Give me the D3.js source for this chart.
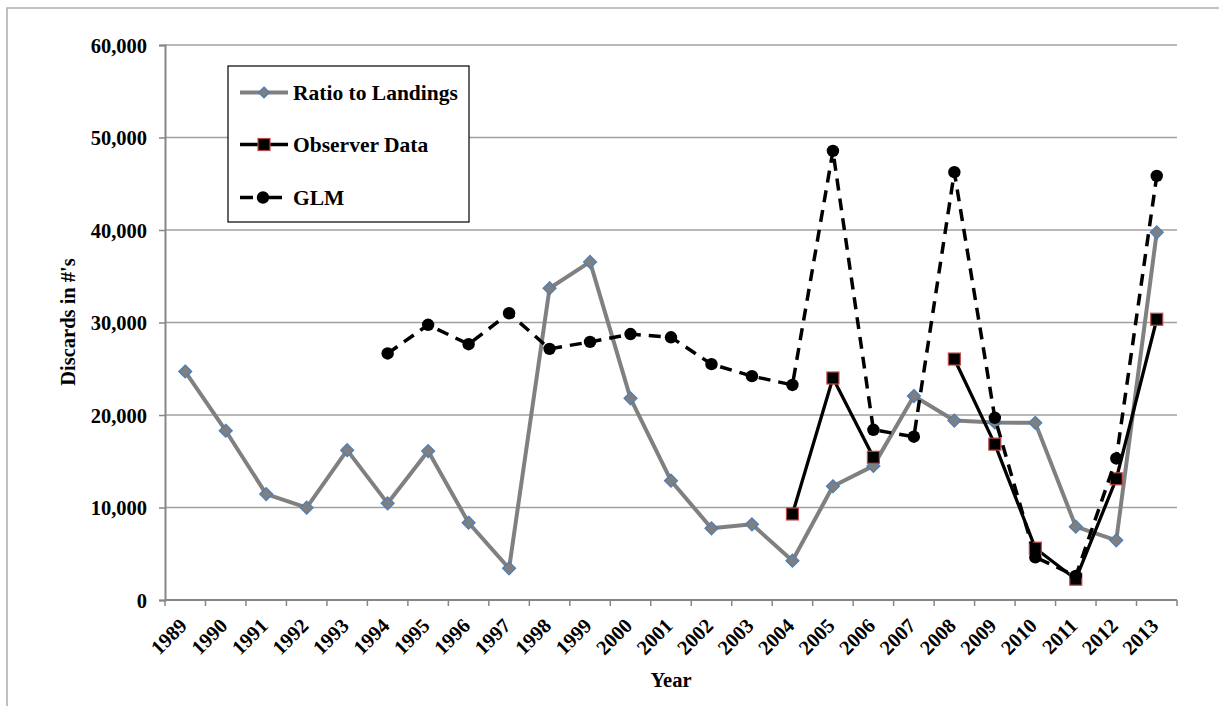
<!DOCTYPE html>
<html>
<head>
<meta charset="utf-8">
<script src="https://cdn.jsdelivr.net/npm/d3@7"></script>
<style>
  html, body { margin: 0; padding: 0; background: #fff; }
  svg { display: block; }
  text { font-family: "Liberation Serif", "Times New Roman", serif; font-weight: bold; fill: #000; }
</style>
</head>
<body>
<svg id="chart" width="1219" height="706"></svg>
<script>
const years = ["1989","1990","1991","1992","1993","1994","1995","1996","1997","1998","1999","2000","2001","2002","2003","2004","2005","2006","2007","2008","2009","2010","2011","2012","2013"];
const ratioToLandings = [24700,18300,11450,9980,16200,10450,16100,8350,3420,33700,36550,21800,12900,7750,8180,4250,12300,14500,22050,19400,19200,19150,7930,6450,39750];
const observerData = [null,null,null,null,null,null,null,null,null,null,null,null,null,null,null,9300,24000,15430,null,26050,16850,5600,2250,13100,30350];
const glm = [null,null,null,null,null,26650,29750,27650,31000,27150,27900,28750,28400,25500,24200,23250,48550,18400,17650,46250,19700,4620,2600,15300,45850];
const yTicks = [0,10000,20000,30000,40000,50000,60000];
const seriesNames = ["Ratio to Landings","Observer Data","GLM"];

const svg = d3.select("#chart");
const W = 1219, H = 706;
svg.append("rect").attr("width", W).attr("height", H).attr("fill", "#fff");
// outer chart border (left & top visible)
svg.append("path").attr("d", `M7,${H+5} L7,8 L${W+5},8`).attr("fill","none").attr("stroke","#acacac").attr("stroke-width",1.5);

const x0 = 165, x1 = 1177, yTop = 45, yBot = 600;
const x = d3.scaleBand().domain(years).range([x0, x1]).padding(0);
const y = d3.scaleLinear().domain([0, 60000]).range([yBot, yTop]);
const cx = d => x(d) + x.bandwidth() / 2;

// gridlines
svg.append("g").selectAll("line").data(yTicks.filter(t => t > 0)).join("line")
  .attr("x1", x0).attr("x2", x1).attr("y1", d => y(d)).attr("y2", d => y(d))
  .attr("stroke", "#a0a0a0").attr("stroke-width", 1.5);

// y axis
const yAxis = d3.axisLeft(y).tickValues(yTicks).tickSize(6).tickFormat(d3.format(","));
const gy = svg.append("g").attr("transform", `translate(${x0},0)`).call(yAxis);
gy.select(".domain").attr("stroke", "#868686").attr("stroke-width", 2);
gy.selectAll(".tick line").attr("stroke", "#868686").attr("stroke-width", 1.5);
gy.selectAll(".tick text").attr("x", -18).attr("dy", "0.35em")
  .style("font-family", '"Liberation Serif", serif').style("font-weight", "bold").style("font-size", "20.5px").attr("fill", "#000");

// x axis (ticks at category boundaries)
const boundaries = years.map(d => x(d)).concat([x1]);
const gx = svg.append("g");
gx.append("line").attr("x1", x0).attr("x2", x1).attr("y1", yBot).attr("y2", yBot)
  .attr("stroke", "#868686").attr("stroke-width", 2);
gx.selectAll("line.tk").data(boundaries).join("line").attr("class","tk")
  .attr("x1", d => d).attr("x2", d => d).attr("y1", yBot).attr("y2", yBot + 6)
  .attr("stroke", "#868686").attr("stroke-width", 1.5);
gx.selectAll("text").data(years).join("text")
  .attr("transform", d => `translate(${cx(d) + 3},${yBot + 27}) rotate(-45)`)
  .attr("text-anchor", "end").style("font-size", "20.5px").text(d => d);

// axis titles
svg.append("text").attr("x", 671).attr("y", 687).attr("text-anchor", "middle").style("font-size", "20.5px").text("Year");
svg.append("text").attr("transform", "translate(75,322) rotate(-90)").attr("text-anchor", "middle").style("font-size", "20.5px").text("Discards in #'s");

// series
const lineGen = arr => d3.line().defined((d, i) => arr[i] !== null).x((d, i) => cx(years[i])).y((d, i) => y(arr[i]));

// Ratio to Landings
svg.append("path").datum(ratioToLandings).attr("d", lineGen(ratioToLandings))
  .attr("fill", "none").attr("stroke", "#808080").attr("stroke-width", 4).attr("stroke-linejoin", "round");
svg.append("g").selectAll("path").data(years.map((yr, i) => ({yr, v: ratioToLandings[i]})).filter(d => d.v !== null)).join("path")
  .attr("d", "M0,-6.5 L6.5,0 L0,6.5 L-6.5,0 Z")
  .attr("transform", d => `translate(${cx(d.yr)},${y(d.v)})`)
  .attr("fill", "#7f7f7f").attr("stroke", "#4a7ebb").attr("stroke-width", 1.2);

// Observer Data
svg.append("path").datum(observerData).attr("d", lineGen(observerData))
  .attr("fill", "none").attr("stroke", "#000").attr("stroke-width", 3.3).attr("stroke-linejoin", "round");
svg.append("g").selectAll("rect").data(years.map((yr, i) => ({yr, v: observerData[i]})).filter(d => d.v !== null)).join("rect")
  .attr("x", d => cx(d.yr) - 6).attr("y", d => y(d.v) - 6).attr("width", 12).attr("height", 12)
  .attr("fill", "#000").attr("stroke", "#be4b48").attr("stroke-width", 1.2);

// GLM
svg.append("path").datum(glm).attr("d", lineGen(glm))
  .attr("fill", "none").attr("stroke", "#000").attr("stroke-width", 3.5).attr("stroke-dasharray", "12,8");
svg.append("g").selectAll("circle").data(years.map((yr, i) => ({yr, v: glm[i]})).filter(d => d.v !== null)).join("circle")
  .attr("cx", d => cx(d.yr)).attr("cy", d => y(d.v)).attr("r", 6.2).attr("fill", "#000");

// legend
const lg = svg.append("g");
lg.append("rect").attr("x", 228).attr("y", 66).attr("width", 241).attr("height", 156)
  .attr("fill", "#fff").attr("stroke", "#000").attr("stroke-width", 1.2);
const rows = [92.5, 144.5, 197.5];
// Ratio
lg.append("line").attr("x1", 240).attr("x2", 288).attr("y1", rows[0]).attr("y2", rows[0]).attr("stroke", "#808080").attr("stroke-width", 4);
lg.append("path").attr("d", "M0,-5.5 L5.5,0 L0,5.5 L-5.5,0 Z").attr("transform", `translate(264,${rows[0]})`)
  .attr("fill", "#7f7f7f").attr("stroke", "#4a7ebb").attr("stroke-width", 1.2);
// Observer
lg.append("line").attr("x1", 240).attr("x2", 288).attr("y1", rows[1]).attr("y2", rows[1]).attr("stroke", "#000").attr("stroke-width", 3.3);
lg.append("rect").attr("x", 258).attr("y", rows[1] - 6).attr("width", 12).attr("height", 12)
  .attr("fill", "#000").attr("stroke", "#be4b48").attr("stroke-width", 1.2);
// GLM
lg.append("line").attr("x1", 240).attr("x2", 282).attr("y1", rows[2]).attr("y2", rows[2]).attr("stroke", "#000").attr("stroke-width", 3.5).attr("stroke-dasharray", "13,16");
lg.append("circle").attr("cx", 263).attr("cy", rows[2]).attr("r", 6.2).attr("fill", "#000");
lg.selectAll("text.lt").data(seriesNames).join("text").attr("class", "lt")
  .attr("x", 293).attr("y", (d, i) => rows[i]).attr("dy", "0.35em").style("font-size", "21.5px").text(d => d);
</script>
</body>
</html>
